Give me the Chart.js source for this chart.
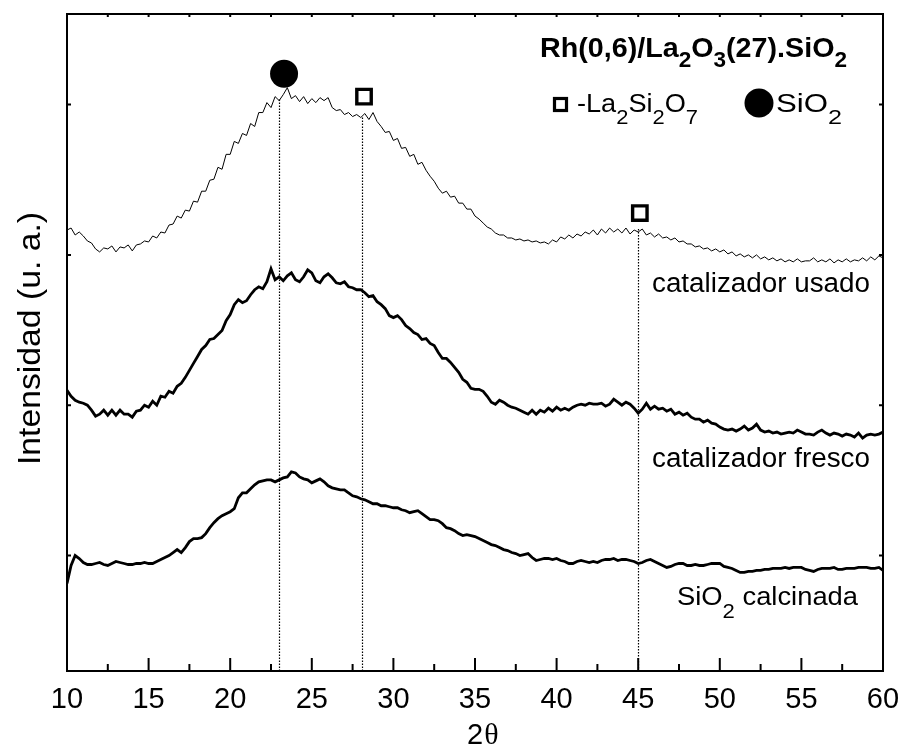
<!DOCTYPE html>
<html>
<head>
<meta charset="utf-8">
<script src="https://cdn.jsdelivr.net/npm/chart.js@4.4.1/dist/chart.umd.min.js"></script>
<style>
  html, body { margin: 0; padding: 0; background: #fff; }
  canvas { display: block; }
</style>
</head>
<body>
<canvas id="xrd" width="903" height="746" style="width:903px;height:746px"></canvas>
<script>
// 2-theta grid (degrees)
var twoTheta = [
  10,10.25,10.5,10.75,11,11.25,11.5,11.75,12,12.25,12.5,12.75,13,13.25,13.5,13.75,14,14.25,14.5,14.75,
  15,15.25,15.5,15.75,16,16.25,16.5,16.75,17,17.25,17.5,17.75,18,18.25,18.5,18.75,19,19.25,19.5,19.75,
  20,20.25,20.5,20.75,21,21.25,21.5,21.75,22,22.25,22.5,22.75,23,23.25,23.5,23.75,24,24.25,24.5,24.75,
  25,25.25,25.5,25.75,26,26.25,26.5,26.75,27,27.25,27.5,27.75,28,28.25,28.5,28.75,29,29.25,29.5,29.75,
  30,30.25,30.5,30.75,31,31.25,31.5,31.75,32,32.25,32.5,32.75,33,33.25,33.5,33.75,34,34.25,34.5,34.75,
  35,35.25,35.5,35.75,36,36.25,36.5,36.75,37,37.25,37.5,37.75,38,38.25,38.5,38.75,39,39.25,39.5,39.75,
  40,40.25,40.5,40.75,41,41.25,41.5,41.75,42,42.25,42.5,42.75,43,43.25,43.5,43.75,44,44.25,44.5,44.75,
  45,45.25,45.5,45.75,46,46.25,46.5,46.75,47,47.25,47.5,47.75,48,48.25,48.5,48.75,49,49.25,49.5,49.75,
  50,50.25,50.5,50.75,51,51.25,51.5,51.75,52,52.25,52.5,52.75,53,53.25,53.5,53.75,54,54.25,54.5,54.75,
  55,55.25,55.5,55.75,56,56.25,56.5,56.75,57,57.25,57.5,57.75,58,58.25,58.5,58.75,59,59.25,59.5,59.75,
  60
];

// intensities (a.u., patterns already offset)
var usado = [
  443,445,438,441,437,432,430,424,421,425,424,427,421,426,425,428,422,428,429,432,
  431,437,435,441,440,448,449,457,455,463,462,472,471,482,482,493,494,506,504,519,
  519,532,530,540,538,550,547,561,561,571,566,577,573,579,586,575,578,572,577,570,
  575,571,576,573,576,566,563,564,559,561,557,559,556,560,554,561,552,547,541,542,
  533,535,525,526,517,519,509,511,503,497,492,485,480,482,476,477,470,470,464,464,
  457,454,450,446,444,440,438,438,435,435,433,434,432,433,431,432,430,431,429,433,
  431,436,434,438,435,439,437,441,439,443,438,444,440,445,441,444,440,445,439,443,
  441,444,438,440,436,439,435,436,433,435,431,432,429,429,426,427,424,425,422,424,
  421,423,419,421,417,419,416,418,415,418,414,416,413,415,412,414,411,413,411,414,
  411,412,412,415,411,413,411,414,410,413,411,414,411,413,412,415,412,416,413,417,
  415
];
var fresco = [
  282,276,272,270,269,267,262,256,258,262,257,262,257,262,258,258,255,261,262,267,
  265,271,267,276,275,281,279,286,289,295,302,309,316,323,327,333,334,338,342,352,
  358,368,373,370,372,378,383,386,384,391,404,393,396,392,397,400,393,391,396,403,
  400,392,390,396,399,395,390,389,391,386,385,383,383,380,376,377,371,368,364,357,
  355,357,353,347,344,340,338,333,334,329,327,320,314,314,310,305,300,293,290,284,
  283,283,281,276,270,268,272,270,267,265,264,262,260,258,262,258,262,260,264,261,
  265,262,264,262,265,267,268,267,269,268,268,269,266,268,273,270,267,270,268,264,
  259,263,269,263,266,263,264,261,263,258,260,257,259,255,253,253,250,252,249,248,
  245,243,242,243,241,243,246,242,244,248,242,240,241,239,240,238,239,240,239,242,
  240,238,238,237,240,242,239,237,239,238,236,238,237,235,239,234,237,238,237,238,
  240
];
var calcinada = [
  88,106,116,113,109,107,107,108,109,107,106,108,110,109,108,107,107,108,108,109,
  108,108,110,112,114,116,119,122,119,124,130,133,133,134,138,144,149,153,156,158,
  160,163,174,179,179,183,187,190,191,192,192,190,192,194,195,200,199,195,193,192,
  189,191,193,190,186,184,183,182,182,179,176,175,173,172,170,168,168,166,166,165,
  164,164,162,161,159,160,161,158,155,152,152,151,148,144,143,141,138,136,137,136,
  135,133,131,129,127,126,124,122,121,119,118,116,117,118,114,111,112,113,113,112,
  113,111,110,108,108,110,111,110,109,110,109,111,112,112,113,111,112,112,111,110,
  108,109,111,112,110,108,106,104,105,107,108,108,106,106,107,106,106,107,108,108,
  108,105,104,103,101,99,99,100,100,101,101,102,102,103,103,103,104,103,104,104,
  104,102,101,100,102,103,103,103,104,102,102,103,103,103,104,104,104,103,103,104,
  101
];

// phase markers and reference lines
var peakTheta = [23, 28.1, 45];
var peakLineTop = [574, 556, 444];
var sio2Theta = [23.3];
var sio2Y = [600];
var laSiTheta = [28.2, 45.1];
var laSiY = [577, 460];

var xTicksStep = 5;
var yTickValues = [116, 267, 418, 569];

var FONT = '"Liberation Sans", Arial, Helvetica, sans-serif';

function pts(xs, ys) {
  return xs.map(function(v, i) { return {x: v, y: ys[i]}; });
}

// draw text with subscripts, stretched to a given width
function drawRuns(ctx, runs, x, y, width, size, bold, subOff) {
  var weight = bold ? 'bold ' : '';
  var mainFont = weight + size + 'px ' + FONT;
  var subFont = weight + Math.round(size * 0.8) + 'px ' + FONT;
  var natural = 0;
  runs.forEach(function(r) {
    ctx.font = r[1] ? subFont : mainFont;
    natural += ctx.measureText(r[0]).width;
  });
  ctx.save();
  ctx.translate(x, y);
  ctx.scale(width / natural, 1);
  ctx.fillStyle = '#000';
  ctx.textBaseline = 'alphabetic';
  ctx.textAlign = 'left';
  var cx = 0;
  runs.forEach(function(r) {
    ctx.font = r[1] ? subFont : mainFont;
    ctx.fillText(r[0], cx, r[1] ? subOff : 0);
    cx += ctx.measureText(r[0]).width;
  });
  ctx.restore();
}

var decor = {
  id: 'decor',
  beforeDatasetsDraw: function(chart) {
    var ctx = chart.ctx, a = chart.chartArea, xs = chart.scales.x, ys = chart.scales.y;
    ctx.save();
    ctx.strokeStyle = '#000';
    ctx.lineWidth = 1.2;
    ctx.setLineDash([1.5, 1.5]);
    peakTheta.forEach(function(t, i) {
      var px = Math.round(xs.getPixelForValue(t)) + 0.5;
      ctx.beginPath();
      ctx.moveTo(px, ys.getPixelForValue(peakLineTop[i]));
      ctx.lineTo(px, a.bottom);
      ctx.stroke();
    });
    ctx.restore();
  },
  afterDraw: function(chart) {
    var ctx = chart.ctx, a = chart.chartArea, xs = chart.scales.x, ys = chart.scales.y;
    ctx.save();
    ctx.strokeStyle = '#000';
    ctx.lineWidth = 2;
    ctx.setLineDash([]);
    ctx.strokeRect(a.left, a.top, a.right - a.left, a.bottom - a.top);

    // x ticks, inward
    ctx.beginPath();
    xs.ticks.forEach(function(t, i) {
      var px = xs.getPixelForValue(t.value);
      ctx.moveTo(px, a.bottom); ctx.lineTo(px, a.bottom - 13);
      if (i < xs.ticks.length - 1) {
        var pm = xs.getPixelForValue(t.value + xTicksStep / 2);
        ctx.moveTo(pm, a.bottom); ctx.lineTo(pm, a.bottom - 7);
      }
      if (i > 0) {
        var pt = xs.getPixelForValue(t.value - xTicksStep / 2);
        ctx.moveTo(pt, a.top); ctx.lineTo(pt, a.top + 3);
        if (i < xs.ticks.length - 1) { ctx.moveTo(px, a.top); ctx.lineTo(px, a.top + 3); }
      }
    });
    yTickValues.forEach(function(v) {
      var py = ys.getPixelForValue(v);
      ctx.moveTo(a.left, py); ctx.lineTo(a.left + 4, py);
      ctx.moveTo(a.right, py); ctx.lineTo(a.right - 4, py);
    });
    ctx.stroke();

    // legend symbols
    ctx.lineWidth = 3.2;
    ctx.strokeRect(554.5, 98.5, 12, 12);
    ctx.fillStyle = '#000';
    ctx.beginPath();
    ctx.arc(759, 103, 14.5, 0, Math.PI * 2);
    ctx.fill();
    ctx.restore();

    // texts
    drawRuns(ctx, [['Rh(0,6)/La', 0], ['2', 1], ['O', 0], ['3', 1], ['(27).SiO', 0], ['2', 1]], 540, 57, 307, 28, true, 10);
    drawRuns(ctx, [['-La', 0], ['2', 1], ['Si', 0], ['2', 1], ['O', 0], ['7', 1]], 577, 112, 121, 26, false, 12);
    drawRuns(ctx, [['SiO', 0], ['2', 1]], 776, 112, 66, 26, false, 12);
    drawRuns(ctx, [['catalizador usado', 0]], 652, 292, 218, 27, false, 0);
    drawRuns(ctx, [['catalizador fresco', 0]], 652, 467, 218, 27, false, 0);
    drawRuns(ctx, [['SiO', 0], ['2', 1], [' calcinada', 0]], 677, 605, 181, 26, false, 13);

    // axis titles
    ctx.save();
    ctx.fillStyle = '#000';
    ctx.font = '29px ' + FONT;
    ctx.fillText('2', 467, 744);
    var w2 = ctx.measureText('2').width;
    ctx.font = '30px "Liberation Serif", "DejaVu Serif", serif';
    ctx.fillText('\u03B8', 467 + w2 + 1, 744);
    ctx.restore();

    ctx.save();
    ctx.translate(40, 465);
    ctx.rotate(-Math.PI / 2);
    drawRuns(ctx, [['Intensidad (u. a.)', 0]], 0, 0, 253, 32, false, 0);
    ctx.restore();
  }
};

var chart = new Chart(document.getElementById('xrd'), {
  type: 'line',
  data: {
    datasets: [
      {
        type: 'scatter',
        label: 'SiO2',
        data: pts(sio2Theta, sio2Y),
        pointStyle: 'circle',
        pointRadius: 14,
        backgroundColor: '#000',
        borderColor: '#000',
        borderWidth: 0
      },
      {
        type: 'scatter',
        label: 'La2Si2O7',
        data: pts(laSiTheta, laSiY),
        pointStyle: 'rect',
        pointRadius: 10.2,
        backgroundColor: '#fff',
        borderColor: '#000',
        borderWidth: 3.4
      },
      {
        label: 'catalizador usado',
        data: pts(twoTheta, usado),
        borderColor: '#000',
        borderWidth: 1,
        pointRadius: 0,
        fill: false
      },
      {
        label: 'catalizador fresco',
        data: pts(twoTheta, fresco),
        borderColor: '#000',
        borderWidth: 2.8,
        pointRadius: 0,
        fill: false
      },
      {
        label: 'SiO2 calcinada',
        data: pts(twoTheta, calcinada),
        borderColor: '#000',
        borderWidth: 2.8,
        pointRadius: 0,
        fill: false
      }
    ]
  },
  options: {
    responsive: false,
    animation: false,
    events: [],
    layout: { padding: { left: 0, right: 20, top: 11, bottom: 0 } },
    scales: {
      x: {
        type: 'linear',
        min: 10,
        max: 60,
        ticks: {
          stepSize: xTicksStep,
          color: '#000',
          font: { family: FONT, size: 29 },
          padding: 12,
          maxRotation: 0
        },
        grid: { display: false, drawTicks: false },
        border: { display: false },
        afterFit: function(s) { s.height = 75; s.paddingLeft = 0; s.paddingRight = 0; }
      },
      y: {
        min: 0,
        max: 660,
        ticks: { display: false },
        grid: { display: false, drawTicks: false },
        border: { display: false },
        afterBuildTicks: function(s) { s.ticks = yTickValues.map(function(v) { return {value: v}; }); },
        afterFit: function(s) { s.width = 67; s.paddingTop = 0; s.paddingBottom = 0; }
      }
    },
    plugins: {
      legend: { display: false },
      tooltip: { enabled: false }
    }
  },
  plugins: [decor]
});
</script>
</body>
</html>
